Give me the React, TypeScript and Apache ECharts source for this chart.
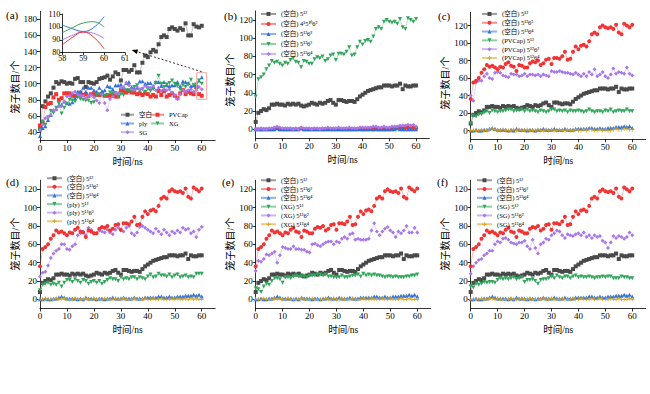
import React, { useEffect, useRef } from "react";
import * as echarts from "echarts";

// time axis (ns), one sample per ns
const TIME = Array.from({ length: 61 }, (_, i) => i);
const INSET_TIME = [58, 58.5, 59, 59.5, 60];

const X_TICKS = [0, 10, 20, 30, 40, 50, 60];
const Y_TICKS_A = [40, 60, 80, 100, 120, 140, 160, 180];
const Y_TICKS = [0, 20, 40, 60, 80, 100, 120];
const INSET_X_TICKS = [58, 59, 60, 61];
const INSET_Y_TICKS = [80, 90, 100, 110];

// (a) total cage numbers
const TOT_BLANK = [
  44, 72, 78, 84, 88, 95, 102, 100, 103, 102,
  100, 101, 100, 106, 107, 102, 102, 96, 102, 101,
  100, 102, 106, 107, 108, 110, 105, 109, 114, 112,
  104, 117, 117, 115, 117, 123, 114, 114, 126, 135,
  133, 139, 142, 140, 149, 158, 160, 158, 168, 170,
  168, 166, 169, 167, 175, 160, 160, 174, 171, 170,
  172,
];
const TOT_PVCAP = [
  48, 51, 71, 75, 76, 83, 87, 80, 82, 88,
  88, 88, 85, 85, 85, 89, 86, 87, 85, 87,
  87, 86, 86, 87, 85, 85, 85, 86, 84, 84,
  92, 91, 89, 91, 89, 89, 87, 88, 86, 88,
  87, 84, 86, 84, 91, 86, 91, 84, 86, 88,
  85, 82, 88, 92, 87, 90, 88, 87, 96, 87,
  85,
];
const TOT_PLY = [
  35, 45, 47, 55, 61, 67, 69, 73, 74, 78,
  76, 75, 77, 82, 90, 90, 95, 90, 95, 95,
  92, 90, 95, 91, 92, 97, 96, 93, 98, 98,
  99, 96, 101, 102, 96, 94, 95, 103, 103, 100,
  101, 101, 96, 102, 102, 97, 102, 98, 97, 98,
  98, 102, 97, 103, 102, 101, 97, 98, 96, 104,
  108,
];
const TOT_XG = [
  43, 53, 49, 58, 66, 64, 70, 75, 63, 70,
  75, 80, 79, 78, 83, 81, 80, 79, 79, 76,
  77, 86, 87, 86, 85, 86, 89, 88, 88, 84,
  87, 86, 92, 92, 90, 96, 98, 91, 93, 90,
  93, 91, 93, 101, 110, 100, 96, 99, 101, 104,
  100, 97, 93, 98, 96, 99, 105, 98, 99, 104,
  100,
];
const TOT_SG = [
  42, 49, 57, 59, 61, 67, 68, 72, 72, 78,
  84, 85, 88, 90, 87, 85, 85, 82, 85, 86,
  83, 79, 76, 87, 76, 67, 81, 84, 88, 88,
  95, 95, 101, 98, 93, 92, 96, 93, 94, 97,
  96, 95, 97, 92, 95, 91, 93, 92, 93, 89,
  86, 81, 87, 92, 90, 92, 93, 90, 92, 96,
  93,
];

// inset (58-60 ns)
const INSET_PLY = [101.5, 98.5, 96.5, 99.5, 108];
const INSET_XG = [95.5, 99.5, 103, 104, 99.7];
const INSET_SG = [90, 93.5, 96, 95, 91];
const INSET_PVCAP = [86, 92, 96, 92, 83];

// blank system cages
const B_512 = [
  8, 18, 20, 22, 21, 23, 27, 27, 28, 27,
  27, 26, 28, 27, 28, 27, 28, 26, 25, 26,
  27, 29, 28, 27, 29, 28, 29, 31, 32, 29,
  27, 32, 32, 31, 30, 31, 31, 30, 33, 36,
  38, 40, 42, 43, 44, 45, 46, 46, 48, 48,
  48, 47, 48, 48, 50, 44, 48, 47, 47, 48,
  48,
];
const B_51262 = [
  36, 55, 57, 60, 66, 70, 75, 73, 74, 72,
  70, 73, 72, 76, 78, 74, 73, 68, 75, 74,
  72, 72, 77, 79, 78, 80, 75, 77, 81, 82,
  76, 83, 83, 82, 85, 90, 81, 82, 90, 96,
  93, 97, 98, 96, 102, 110, 112, 110, 118, 120,
  118, 117, 118, 116, 121, 112, 110, 122, 120, 118,
  121,
];
const B_51264 = [
  0, 0, 1, 0, 0, 1, 1, 2, 3, 2,
  1, 1, 1, 1, 0, 1, 0, 2, 1, 1,
  1, 0, 1, 1, 0, 1, 1, 2, 1, 1,
  1, 2, 1, 1, 1, 2, 1, 1, 1, 2,
  2, 2, 2, 2, 3, 3, 2, 2, 3, 2,
  2, 3, 3, 3, 4, 4, 4, 5, 4, 5,
  3,
];
const B_4151062 = [
  0, 0, 0, 0, 0, 0, 0, 1, 1, 0,
  0, 0, 0, 0, 0, 0, 0, 1, 0, 0,
  0, 0, 0, 0, 0, 0, 0, 0, 0, 0,
  0, 0, 0, 0, 0, 0, 0, 0, 0, 1,
  0, 0, 0, 1, 0, 1, 0, 0, 0, 0,
  0, 1, 1, 2, 2, 1, 2, 2, 1, 2,
  1,
];
const B_51263 = [
  0, 0, 0, 0, 0, 0, 0, 0, 1, 0,
  0, 0, 0, 0, 0, 0, 0, 1, 0, 0,
  0, 0, 0, 0, 0, 0, 0, 0, 0, 0,
  0, 0, 0, 0, 0, 0, 0, 0, 0, 0,
  0, 0, 0, 0, 0, 0, 0, 0, 0, 0,
  0, 0, 0, 1, 0, 0, 0, 0, 0, 0,
  0,
];

// PVCap
const P_512 = [
  8, 17, 16, 18, 19, 21, 22, 20, 23, 22,
  21, 22, 22, 23, 24, 24, 22, 23, 23, 24,
  22, 24, 22, 23, 22, 21, 23, 22, 21, 22,
  24, 24, 22, 23, 22, 23, 21, 23, 22, 22,
  23, 22, 21, 22, 24, 22, 21, 22, 22, 21,
  23, 22, 24, 21, 22, 23, 22, 22, 24, 22,
  22,
];
const P_51262 = [
  40, 34, 55, 57, 57, 62, 65, 60, 59, 66,
  67, 66, 63, 62, 61, 65, 64, 64, 62, 63,
  65, 62, 64, 64, 63, 64, 62, 64, 63, 62,
  68, 67, 67, 68, 67, 66, 66, 65, 64, 66,
  64, 62, 65, 62, 67, 64, 70, 62, 64, 67,
  62, 60, 64, 71, 65, 67, 66, 65, 72, 65,
  63,
];
const P_51264 = [
  0, 0, 0, 0, 1, 0, 0, 1, 2, 1,
  0, 0, 1, 0, 0, 0, 1, 0, 1, 0,
  0, 1, 0, 0, 0, 1, 0, 0, 1, 0,
  1, 0, 0, 1, 0, 0, 1, 0, 0, 1,
  0, 0, 1, 0, 1, 1, 0, 0, 1, 0,
  1, 0, 0, 1, 2, 1, 1, 2, 2, 1,
  1,
];

// ply
const G_512 = [
  10, 16, 17, 18, 16, 17, 16, 18, 14, 18,
  21, 21, 19, 22, 20, 18, 21, 20, 17, 19,
  20, 18, 20, 17, 19, 21, 23, 22, 22, 20,
  24, 22, 23, 22, 24, 24, 22, 24, 23, 22,
  25, 27, 24, 25, 28, 26, 26, 25, 27, 24,
  26, 27, 24, 25, 26, 24, 25, 24, 28, 28,
  28,
];
const G_51262 = [
  25, 29, 30, 37, 45, 50, 53, 55, 60, 60,
  55, 54, 58, 60, 70, 72, 74, 70, 78, 76,
  72, 72, 75, 74, 73, 76, 73, 71, 76, 78,
  75, 74, 78, 80, 72, 70, 73, 79, 80, 78,
  76, 74, 72, 77, 74, 71, 76, 73, 70, 74,
  72, 75, 73, 78, 76, 77, 72, 74, 68, 76,
  79,
];
const G_51264 = [
  0, 0, 1, 0, 0, 0, 1, 0, 1, 1,
  0, 0, 0, 1, 0, 0, 0, 1, 0, 0,
  1, 0, 0, 0, 1, 0, 0, 0, 1, 0,
  0, 1, 0, 0, 0, 1, 0, 0, 0, 1,
  0, 0, 1, 0, 0, 1, 0, 0, 0, 1,
  0, 1, 0, 0, 1, 0, 1, 0, 1, 0,
  0,
];

// XG
const X_512 = [
  12, 11, 8, 14, 17, 16, 20, 23, 23, 22,
  18, 24, 24, 23, 25, 26, 25, 25, 25, 24,
  26, 26, 26, 27, 27, 26, 27, 25, 25, 24,
  24, 24, 26, 24, 24, 25, 26, 26, 27, 25,
  28, 26, 27, 26, 27, 26, 26, 25, 24, 25,
  25, 24, 25, 24, 24, 24, 25, 25, 26, 26,
  27,
];
const X_51262 = [
  31, 42, 41, 44, 49, 48, 50, 52, 40, 48,
  57, 56, 55, 55, 58, 55, 55, 54, 54, 52,
  51, 60, 61, 59, 58, 60, 62, 63, 63, 60,
  63, 62, 66, 68, 66, 71, 72, 65, 66, 65,
  65, 65, 66, 75, 83, 74, 70, 74, 77, 79,
  75, 73, 68, 74, 72, 75, 80, 73, 73, 78,
  73,
];
const X_51264 = [
  0, 0, 0, 1, 0, 0, 0, 1, 0, 1,
  0, 0, 1, 0, 0, 0, 0, 1, 0, 0,
  0, 1, 0, 0, 0, 0, 1, 0, 0, 1,
  0, 0, 1, 0, 0, 0, 1, 0, 0, 0,
  1, 0, 0, 1, 0, 0, 0, 1, 0, 0,
  1, 0, 0, 0, 1, 0, 0, 1, 0, 0,
  0,
];

// SG
const S_512 = [
  14, 13, 17, 16, 17, 19, 18, 19, 19, 18,
  21, 23, 22, 23, 22, 23, 24, 22, 23, 24,
  19, 21, 21, 22, 20, 17, 21, 22, 22, 23,
  25, 23, 26, 24, 23, 25, 25, 23, 25, 26,
  24, 25, 24, 24, 25, 24, 23, 24, 24, 25,
  24, 25, 25, 23, 23, 23, 25, 24, 24, 23,
  23,
];
const S_51262 = [
  28, 36, 40, 43, 44, 48, 50, 53, 53, 60,
  63, 62, 66, 67, 65, 62, 61, 60, 62, 62,
  64, 58, 55, 65, 56, 50, 60, 62, 66, 65,
  70, 72, 75, 74, 70, 67, 71, 70, 69, 71,
  72, 70, 73, 68, 70, 67, 70, 68, 69, 64,
  62, 56, 62, 69, 67, 69, 68, 66, 68, 73,
  70,
];
const S_51264 = [
  0, 0, 0, 0, 1, 0, 0, 1, 1, 0,
  1, 0, 0, 0, 0, 1, 0, 0, 0, 1,
  0, 0, 1, 0, 0, 0, 0, 1, 0, 0,
  1, 0, 0, 0, 1, 0, 0, 0, 1, 0,
  0, 1, 0, 0, 0, 1, 0, 0, 1, 0,
  0, 0, 1, 0, 0, 1, 0, 0, 0, 1,
  0,
];

const BLACK = "#4a4a4a";
const RED = "#f03434";
const BLUE = "#2f6fd8";
const GREEN = "#2fa65a";
const PURPLE = "#a877e8";
const ORANGE = "#d4a21a";
const PINK = "#f4a3a3";

const FONT = "'Liberation Serif', 'Noto Sans CJK SC', serif";
const CROSS = "path://M4,0L6,0L6,4L10,4L10,6L6,6L6,10L4,10L4,6L0,6L0,4L4,4Z";
const DOWN = "path://M0,0L10,0L5,9Z";

const GRIDS = [
  { left: 40, top: 11.3, width: 175.2, height: 128.7 },
  { left: 255.7, top: 10.9, width: 173.7, height: 127.4 },
  { left: 470.7, top: 12.4, width: 175, height: 126.9 },
  { left: 40, top: 180.2, width: 175.2, height: 128.3 },
  { left: 255.7, top: 180.2, width: 175, height: 128.3 },
  { left: 470.7, top: 180.2, width: 175, height: 128.3 },
  { left: 62.3, top: 14, width: 62.7, height: 38.7 },
];
const Y_RANGES = [
  [30, 190],
  [-10, 130],
  [-10, 135],
  [-10, 130],
  [-10, 130],
  [-10, 130],
];

function line(name: string, data: number[], gi: number, color: string, symbol: string, size = 4) {
  return {
    type: "line",
    name,
    xAxisIndex: gi,
    yAxisIndex: gi,
    data: TIME.map((t, i) => [t, data[i]]),
    symbol,
    symbolSize: size,
    showSymbol: true,
    itemStyle: { color },
    lineStyle: { color, width: 0.6, opacity: 0.55 },
    emphasis: { disabled: true },
  };
}

function insetLine(name: string, data: number[], color: string) {
  return {
    type: "line",
    name,
    xAxisIndex: 6,
    yAxisIndex: 6,
    data: INSET_TIME.map((t, i) => [t, data[i]]),
    smooth: true,
    symbol: "none",
    itemStyle: { color },
    lineStyle: { color, width: 1 },
    emphasis: { disabled: true },
  };
}

function xAxis(gi: number) {
  return {
    type: "value",
    gridIndex: gi,
    min: 0,
    max: 65,
    axisLine: { show: true, onZero: false, lineStyle: { color: "#000", width: 0.8 } },
    axisTick: { show: true, length: 3, customValues: X_TICKS, lineStyle: { color: "#000", width: 0.8 } },
    axisLabel: { customValues: X_TICKS, fontSize: 9, color: "#000", margin: 3, fontFamily: FONT },
    splitLine: { show: false },
    name: "时间/ns",
    nameLocation: "middle",
    nameGap: 17,
    nameTextStyle: { fontSize: 9.5, color: "#000", fontFamily: FONT },
  };
}

function yAxis(gi: number) {
  const [min, max] = Y_RANGES[gi];
  const ticks = gi === 0 ? Y_TICKS_A : Y_TICKS;
  return {
    type: "value",
    gridIndex: gi,
    min,
    max,
    axisLine: { show: true, onZero: false, lineStyle: { color: "#000", width: 0.8 } },
    axisTick: { show: true, length: 3, customValues: ticks, lineStyle: { color: "#000", width: 0.8 } },
    axisLabel: { customValues: ticks, fontSize: 9, color: "#000", margin: 3, fontFamily: FONT },
    splitLine: { show: false },
  };
}

function legend(left: number, top: number, names: string[], gap: number, itemWidth = 15) {
  return {
    left,
    top,
    orient: "vertical",
    data: names,
    itemWidth,
    itemHeight: 5,
    itemGap: gap,
    padding: 0,
    selectedMode: false,
    textStyle: { fontSize: 6.5, color: "#000", fontFamily: FONT, lineHeight: 6 },
  };
}

function label(text: string, x: number, y: number) {
  return {
    type: "text",
    x,
    y,
    style: { text, fontSize: 11, fontFamily: FONT, fill: "#000", textVerticalAlign: "middle" },
  };
}

function yName(x: number, y: number) {
  return {
    type: "text",
    x,
    y,
    rotation: Math.PI / 2,
    style: {
      text: "笼子数目/个",
      fontSize: 10,
      fontFamily: FONT,
      fill: "#000",
      align: "center",
      verticalAlign: "middle",
    },
  };
}

function buildOption() {
  const series: any[] = [];
  // (a)
  series.push(line("空白", TOT_BLANK, 0, BLACK, "rect"));
  series.push(line("PVCap", TOT_PVCAP, 0, RED, "rect"));
  series.push(line("ply", TOT_PLY, 0, BLUE, "triangle"));
  series.push(line("XG", TOT_XG, 0, GREEN, DOWN));
  series.push(line("SG", TOT_SG, 0, PURPLE, "diamond"));
  // inset
  series.push(insetLine("ply", INSET_PLY, BLUE));
  series.push(insetLine("XG", INSET_XG, GREEN));
  series.push(insetLine("SG", INSET_SG, PURPLE));
  series.push(insetLine("PVCap", INSET_PVCAP, RED));
  // (b)
  const bNames = ["(空白) 5¹²", "(空白) 4¹5¹⁰6²", "(空白) 5¹²6³", "(空白) 5¹²6² ", "(空白) 5¹²6⁴ "];
  series.push(line(bNames[0], B_512, 1, BLACK, "rect"));
  series.push(line(bNames[1], B_4151062, 1, RED, "circle"));
  series.push(line(bNames[2], B_51263, 1, BLUE, "triangle"));
  series.push(line(bNames[3], B_51262, 1, GREEN, DOWN));
  series.push(line(bNames[4], B_51264, 1, PURPLE, "diamond"));
  // (c)-(f)
  const groups: [string, number[], number[], number[]][] = [
    ["PVCap", P_512, P_51262, P_51264],
    ["ply", G_512, G_51262, G_51264],
    ["XG", X_512, X_51262, X_51264],
    ["SG", S_512, S_51262, S_51264],
  ];
  const legendNames: string[][] = [];
  groups.forEach(([tag, d12, d62, d64], k) => {
    const gi = k + 2;
    const names = [
      "(空白) 5¹²",
      "(空白) 5¹²6²",
      "(空白) 5¹²6⁴",
      `(${tag}) 5¹²`,
      `(${tag}) 5¹²6²`,
      `(${tag}) 5¹²6⁴`,
    ];
    legendNames.push(names);
    series.push(line(names[0], B_512, gi, BLACK, "rect"));
    series.push(line(names[3], d12, gi, GREEN, DOWN));
    series.push(line(names[4], d62, gi, PURPLE, "diamond"));
    series.push(line(names[2], B_51264, gi, BLUE, "triangle"));
    series.push(line(names[5], d64, gi, ORANGE, CROSS));
    series.push(line(names[1], B_51262, gi, RED, "circle"));
  });

  const xAxes: any[] = [0, 1, 2, 3, 4, 5].map(xAxis);
  const yAxes: any[] = [0, 1, 2, 3, 4, 5].map(yAxis);
  xAxes.push({
    type: "value",
    gridIndex: 6,
    min: 58,
    max: 61,
    interval: 1,
    axisLine: { show: true, onZero: false, lineStyle: { color: "#000", width: 0.8 } },
    axisTick: { show: true, length: 2.5, customValues: INSET_X_TICKS, lineStyle: { color: "#000", width: 0.8 } },
    axisLabel: { customValues: INSET_X_TICKS, fontSize: 8, color: "#000", margin: 2, fontFamily: FONT },
    splitLine: { show: false },
  });
  yAxes.push({
    type: "value",
    gridIndex: 6,
    min: 80,
    max: 110,
    interval: 10,
    axisLine: { show: true, onZero: false, lineStyle: { color: "#000", width: 0.8 } },
    axisTick: { show: true, length: 2.5, customValues: INSET_Y_TICKS, lineStyle: { color: "#000", width: 0.8 } },
    axisLabel: { customValues: INSET_Y_TICKS, fontSize: 8, color: "#000", margin: 2, fontFamily: FONT },
    splitLine: { show: false },
  });

  const legends = [
    legend(120, 111.5, ["空白", "ply", "SG"], 2.2, 13),
    legend(150, 111.5, ["PVCap", "XG"], 2.2, 13),
    legend(260, 10.7, bNames, 3.5),
    legend(481, 10.7, legendNames[0], 2.3),
    legend(46, 175, legendNames[1], 2.1),
    legend(260, 177, legendNames[2], 2.3),
    legend(476, 177, legendNames[3], 2.3),
  ];

  // arrow from rectangle to inset
  const tip = [131.7, 50];
  const tail = [201.7, 71.7];
  const dx = tail[0] - tip[0];
  const dy = tail[1] - tip[1];
  const len = Math.hypot(dx, dy);
  const ux = dx / len;
  const uy = dy / len;
  const bx = tip[0] + ux * 6;
  const by = tip[1] + uy * 6;
  const head = [
    [tip[0], tip[1]],
    [bx - uy * 2.4, by + ux * 2.4],
    [bx + uy * 2.4, by - ux * 2.4],
  ];

  const graphic = [
    label("(a)", 6, 15),
    label("(b)", 224, 16),
    label("(c)", 438, 16),
    label("(d)", 6, 182),
    label("(e)", 222, 182),
    label("(f)", 437, 182),
    yName(15, 87),
    yName(230, 80),
    yName(445, 83),
    yName(15, 244),
    yName(230, 244),
    yName(445, 244),
    {
      type: "rect",
      shape: { x: 196.7, y: 72.7, width: 10, height: 26.6 },
      style: { fill: "none", stroke: PINK, lineWidth: 1 },
      z: 10,
    },
    {
      type: "line",
      shape: { x1: tail[0], y1: tail[1], x2: bx, y2: by },
      style: { stroke: "#000", lineWidth: 0.8, lineDash: [2, 2] },
      z: 10,
    },
    {
      type: "polygon",
      shape: { points: head },
      style: { fill: "#000" },
      z: 10,
    },
  ];

  return {
    animation: false,
    backgroundColor: "#fff",
    grid: GRIDS,
    xAxis: xAxes,
    yAxis: yAxes,
    legend: legends,
    series,
    graphic,
  };
}

export default function App() {
  const ref = useRef<HTMLDivElement>(null);
  useEffect(() => {
    const chart = echarts.init(ref.current!, undefined, { renderer: "svg" });
    chart.setOption(buildOption() as any);
    return () => chart.dispose();
  }, []);
  return (
    <div
      ref={ref}
      style={{ width: 650, height: 394, position: "absolute", left: 0, top: 0, background: "#fff" }}
    />
  );
}
